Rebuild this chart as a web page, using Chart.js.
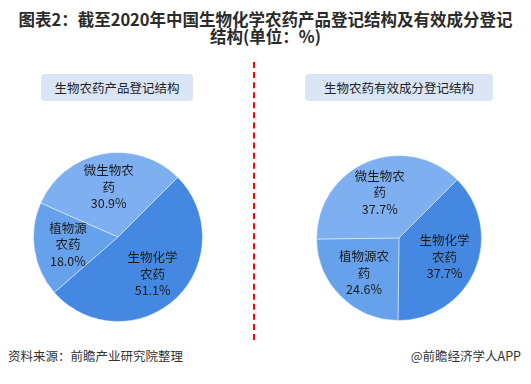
<!DOCTYPE html>
<html>
<head>
<meta charset="utf-8">
<script src="https://cdn.jsdelivr.net/npm/chart.js@4"></script>
<style>
  html, body { margin: 0; padding: 0; background: #fff; }
  body { width: 531px; height: 384px; position: relative; overflow: hidden;
         font-family: "Noto Sans CJK SC", "Noto Sans", sans-serif; color: #222; }
  .title { position: absolute; left: 0; top: 11px; width: 531px; text-align: center;
           font-size: 16.5px; font-weight: bold; line-height: 17px; color: #2b2b2b; }
  .sub { position: absolute; top: 74px; height: 27px; line-height: 27px; background: #dae6f6;
         border-radius: 4px; text-align: center; font-size: 12.5px; color: #222; }
  .divider { position: absolute; left: 253px; top: 62px; height: 278px; width: 0;
             border-left: 2px dashed #ff0000; }
  .foot { position: absolute; top: 347px; font-size: 12.5px; color: #333; line-height: 17px; }
  canvas { position: absolute; }
</style>
</head>
<body>
<div class="title">图表2：截至2020年中国生物化学农药产品登记结构及有效成分登记<br>结构(单位：%)</div>
<div class="sub" style="left:41px;width:152px;">生物农药产品登记结构</div>
<div class="sub" style="left:305px;width:188px;">生物农药有效成分登记结构</div>
<div class="divider"></div>
<canvas id="pie-left" width="170" height="170" style="left:33px;top:152px;"></canvas>
<canvas id="pie-right" width="166" height="166" style="left:316px;top:155px;"></canvas>
<div class="foot" style="left:8px;">资料来源：前瞻产业研究院整理</div>
<div class="foot" style="right:10px;">@前瞻经济学人APP</div>
<script>
  // categories, in drawing order (clockwise from the 45° mark)
  const categories = ["生物化学农药", "植物源农药", "微生物农药"];
  const productShare = [51.1, 18.0, 30.9];      // 生物农药产品登记结构
  const ingredientShare = [37.7, 24.6, 37.7];   // 生物农药有效成分登记结构
  // how each name wraps inside its slice
  const productLabelLines = [["生物化学", "农药"], ["植物源", "农药"], ["微生物农", "药"]];
  const ingredientLabelLines = [["生物化学", "农药"], ["植物源农", "药"], ["微生物农", "药"]];
  const sliceColors = ["#4488e1", "#66a1eb", "#7eaff0"];

  const sliceLabels = {
    id: "sliceLabels",
    afterDatasetsDraw(chart, args, opts) {
      const ctx = chart.ctx;
      const meta = chart.getDatasetMeta(0);
      const values = chart.data.datasets[0].data;
      ctx.save();
      ctx.font = '12.5px "Noto Sans CJK SC", sans-serif';
      ctx.fillStyle = "#1a1a1a";
      ctx.textAlign = "center";
      ctx.textBaseline = "middle";
      meta.data.forEach((arc, i) => {
        const p = arc.getProps(["x", "y", "startAngle", "endAngle", "outerRadius"], true);
        const mid = (p.startAngle + p.endAngle) / 2;
        const cx = p.x + Math.cos(mid) * p.outerRadius * 0.6;
        const cy = p.y + Math.sin(mid) * p.outerRadius * 0.6;
        const lines = opts.lines[i].concat([values[i].toFixed(1) + "%"]);
        const lh = 16.5;
        const top = cy - (lines.length - 1) * lh / 2;
        lines.forEach((t, k) => ctx.fillText(t, cx, top + k * lh));
      });
      ctx.restore();
    }
  };

  function makePie(id, values, lines) {
    return new Chart(document.getElementById(id), {
      type: "pie",
      data: {
        labels: categories,
        datasets: [{
          data: values,
          backgroundColor: sliceColors,
          borderColor: "rgba(255,255,255,0.45)",
          borderWidth: 1
        }]
      },
      options: {
        responsive: false,
        animation: false,
        rotation: 45,
        layout: { padding: 0 },
        plugins: {
          legend: { display: false },
          tooltip: { enabled: false },
          sliceLabels: { lines: lines }
        }
      },
      plugins: [sliceLabels]
    });
  }

  makePie("pie-left", productShare, productLabelLines);
  makePie("pie-right", ingredientShare, ingredientLabelLines);
</script>
</body>
</html>
